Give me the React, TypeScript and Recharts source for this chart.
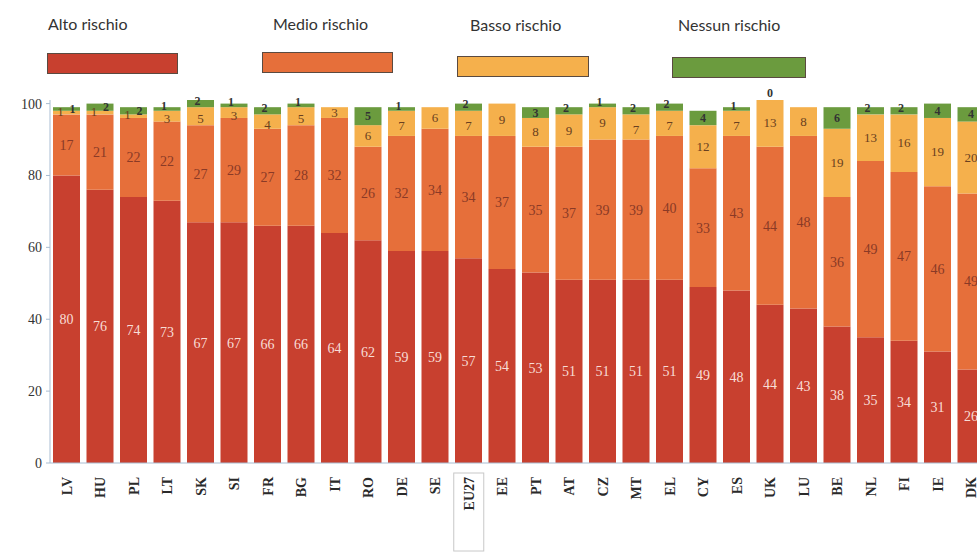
import React from 'react';
import { BarChart, Bar, XAxis, YAxis, LabelList } from 'recharts';

const categories = ['LV','HU','PL','LT','SK','SI','FR','BG','IT','RO','DE','SE','EU27','EE','PT','AT','CZ','MT','EL','CY','ES','UK','LU','BE','NL','FI','IE','DK'];
const alto = [80,76,74,73,67,67,66,66,64,62,59,59,57,54,53,51,51,51,51,49,48,44,43,38,35,34,31,26];
const medio = [17,21,22,22,27,29,27,28,32,26,32,34,34,37,35,37,39,39,40,33,43,44,48,36,49,47,46,49];
const basso = [1,1,1,3,5,3,4,5,3,6,7,6,7,9,8,9,9,7,7,12,7,13,8,19,13,16,19,20];
const nessuno: (number | null)[] = [1,2,2,1,2,1,2,1,null,5,1,null,2,null,3,2,1,2,2,4,1,0,null,6,2,2,4,4];
const yTicks = [0,20,40,60,80,100];

const seriesNames = ['Alto rischio','Medio rischio','Basso rischio','Nessun rischio'];
const colors = ['#c8402f','#e66f3a','#f5b04c','#6b9b3e'];

const data = categories.map((c, i) => ({
  name: c,
  alto: alto[i],
  medio: medio[i],
  basso: basso[i],
  nessuno: nessuno[i],
}));

const legendPos = [
  { tx: 48, ty: 14, sx: 47, sy: 53, sw: 131 },
  { tx: 273, ty: 14, sx: 262, sy: 52, sw: 131 },
  { tx: 470, ty: 15, sx: 457, sy: 56, sw: 132 },
  { tx: 678, ty: 15, sx: 672, sy: 57, sw: 134 },
];

const serif = "'Liberation Serif', 'DejaVu Serif', serif";

const XTick = (props: any) => {
  const { x, y, payload } = props;
  const isEU = payload.value === 'EU27';
  return (
    <g transform={`translate(${x},${y})`}>
      {isEU && (
        <rect x={-15} y={2} width={30} height={78} fill="none" stroke="#c8c8c8" strokeWidth={1} />
      )}
      <text
        transform="rotate(-90)"
        x={-6}
        y={5}
        textAnchor="end"
        fontFamily={serif}
        fontWeight="bold"
        fontSize={14}
        fill="#2a2a2a"
      >
        {payload.value}
      </text>
    </g>
  );
};

const YTick = (props: any) => {
  const { x, y, payload } = props;
  return (
    <text x={x - 2} y={y + 5} textAnchor="end" fontFamily={serif} fontSize={14} fill="#333">
      {payload.value}
    </text>
  );
};

// small top-segment labels: nudge sideways/vertically like the reference
const BassoLabel = (props: any) => {
  const { x, y, width, height, value, index } = props;
  if (value == null) return null;
  const n = nessuno[index];
  let cx = x + width / 2;
  let cy = y + height / 2;
  if (value <= 2 && n != null && n <= 2) {
    cx -= 6;
    cy -= 1;
  } else if (value <= 7 && n != null && n <= 2) {
    cy += 3;
  }
  return (
    <g>
      <text x={cx} y={cy} dy={4} textAnchor="middle" fontFamily={serif} fontSize={13} fill="#6a4020">
        {value}
      </text>
      {n === 0 && (
        <text x={x + width / 2} y={y} dy={-3} textAnchor="middle" fontFamily={serif} fontSize={12} fontWeight="bold" fill="#333">
          {n}
        </text>
      )}
    </g>
  );
};

const NessunoLabel = (props: any) => {
  const { x, y, width, height, value, index } = props;
  if (value == null || value === 0) return null;
  const b = basso[index];
  let cx = x + width / 2;
  let cy = y + height / 2;
  if (value <= 2 && b <= 2) {
    cx += 6;
  } else if (value <= 2) {
    cx -= 3;
    cy -= 3;
  }
  return (
    <text x={cx} y={cy} dy={4} textAnchor="middle" fontFamily={serif} fontSize={12} fontWeight="bold" fill="#333">
      {value}
    </text>
  );
};

export default function App() {
  return (
    <div style={{ position: 'fixed', left: 0, top: 0, width: 977, height: 557, overflow: 'hidden', background: '#fff' }}>
      {seriesNames.map((n, i) => (
        <React.Fragment key={n}>
          <div style={{ position: 'absolute', left: legendPos[i].tx, top: legendPos[i].ty, fontFamily: 'Lato, "Open Sans", sans-serif', fontSize: 16, color: '#333', whiteSpace: 'nowrap' }}>{n}</div>
          <div style={{ position: 'absolute', left: legendPos[i].sx, top: legendPos[i].sy, width: legendPos[i].sw, height: 21, background: colors[i], border: '1.5px solid #5a4a40', boxSizing: 'border-box' }} />
        </React.Fragment>
      ))}
      <div style={{ position: 'absolute', left: 0, top: 0 }}>
        <BarChart width={1000} height={557} data={data} margin={{ top: 100, right: 12, left: 0, bottom: 34 }} barSize={27}>
          <YAxis
            width={50}
            domain={[0, 100]}
            ticks={yTicks}
            interval={0}
            axisLine={{ stroke: '#a9bdd2' }}
            tickLine={{ stroke: '#a9bdd2' }}
            tickSize={4}
            tick={<YTick />}
          />
          <XAxis
            dataKey="name"
            height={60}
            interval={0}
            axisLine={{ stroke: '#a9bdd2' }}
            tickLine={false}
            tick={<XTick />}
          />
          <Bar dataKey="alto" stackId="a" fill={colors[0]} isAnimationActive={false}>
            <LabelList dataKey="alto" position="center" fill="#f8ddd6" fontFamily={serif} fontSize={14} />
          </Bar>
          <Bar dataKey="medio" stackId="a" fill={colors[1]} isAnimationActive={false}>
            <LabelList dataKey="medio" position="center" fill="#8a3a26" fontFamily={serif} fontSize={14} />
          </Bar>
          <Bar dataKey="basso" stackId="a" fill={colors[2]} isAnimationActive={false}>
            <LabelList dataKey="basso" content={<BassoLabel />} />
          </Bar>
          <Bar dataKey="nessuno" stackId="a" fill={colors[3]} isAnimationActive={false}>
            <LabelList dataKey="nessuno" content={<NessunoLabel />} />
          </Bar>
        </BarChart>
      </div>
    </div>
  );
}
